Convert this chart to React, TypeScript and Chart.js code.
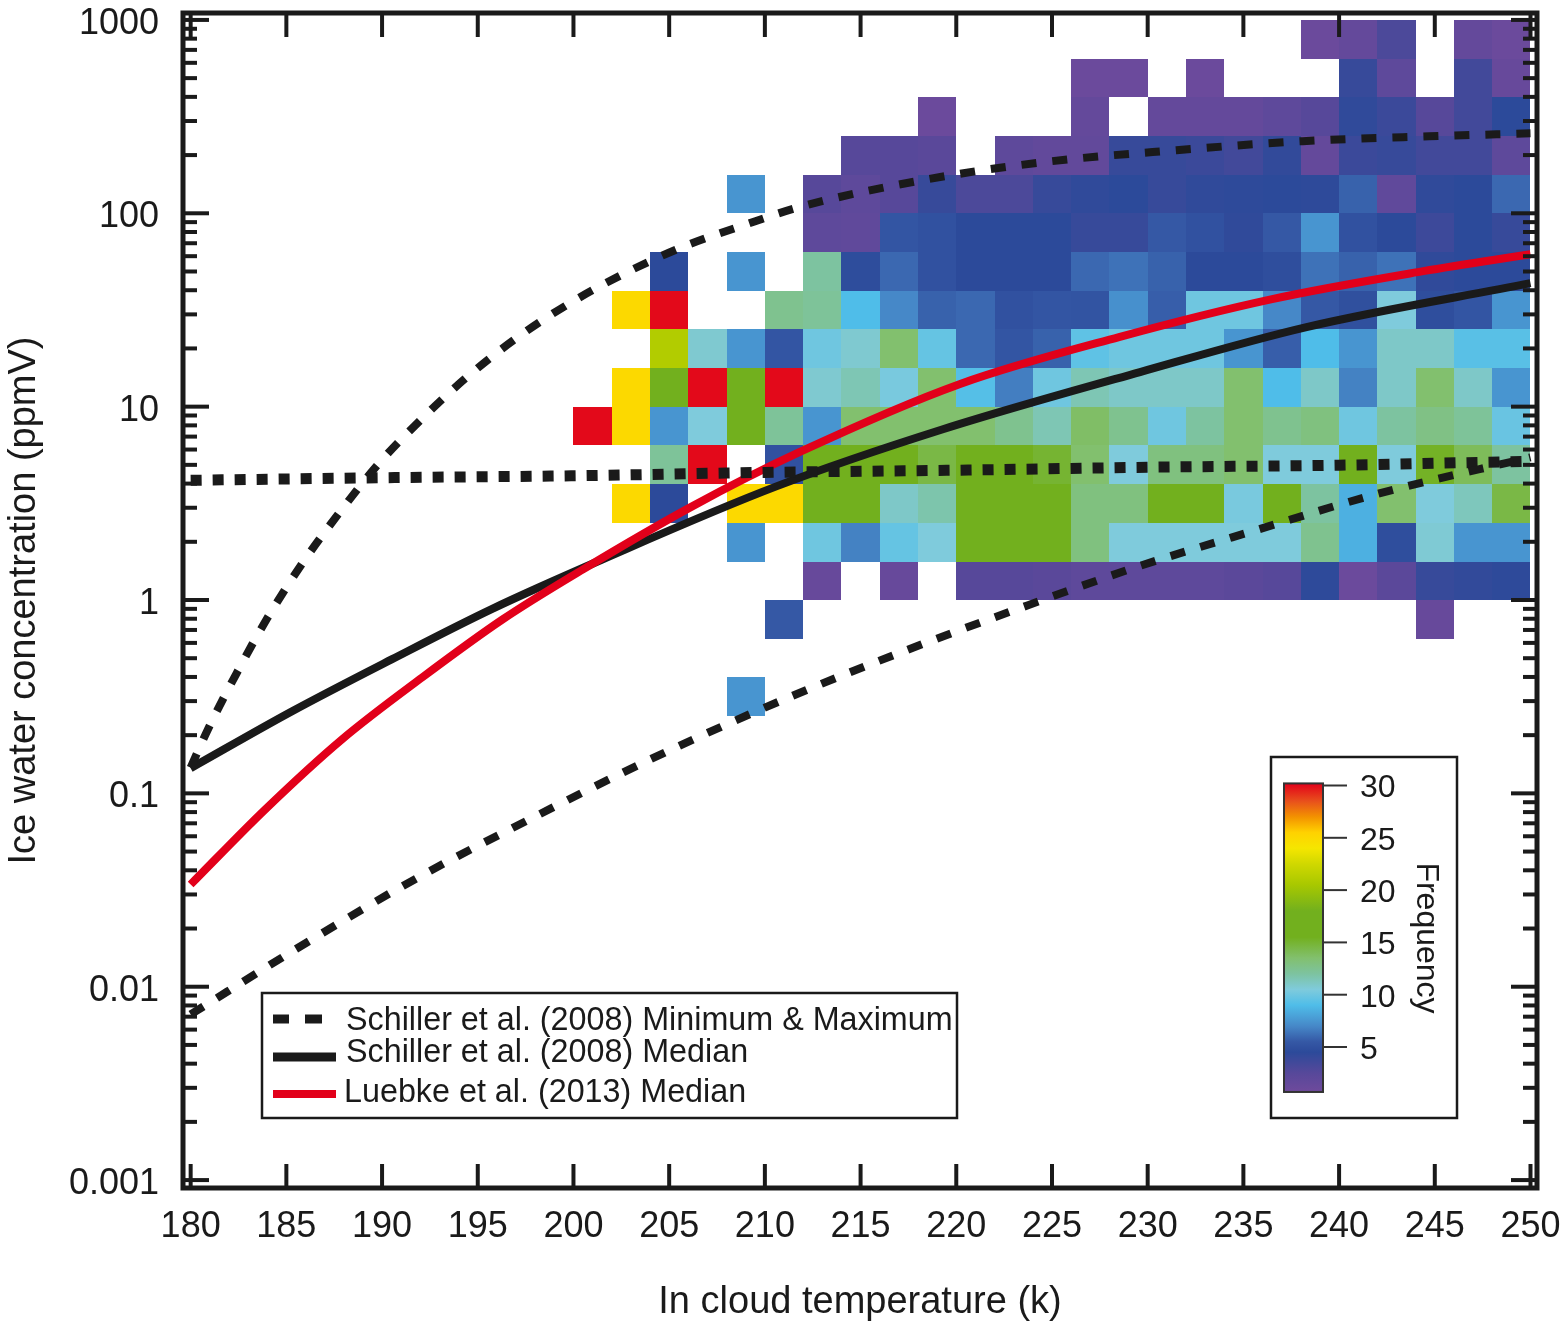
import React, { useEffect, useRef } from "react";
import { Chart, registerables } from "chart.js";
Chart.register(...registerables);

const FONT = '"Liberation Sans", Arial, sans-serif';
const INK = "#1a1a1a";

// axes
const xTickValues = [180, 185, 190, 195, 200, 205, 210, 215, 220, 225, 230, 235, 240, 245, 250];
const yTickValues = [1000, 100, 10, 1, 0.1, 0.01, 0.001];
const yTickLabels = ["1000", "100", "10", "1", "0.1", "0.01", "0.001"];
const yMinorSteps = [2, 3, 4, 5, 6, 7, 8, 9];

// heat map bins: left edge of each temperature column, 2 K wide
const binTemps = [200, 202, 204, 206, 208, 210, 212, 214, 216, 218, 220, 222, 224, 226, 228, 230, 232, 234, 236, 238, 240, 242, 244, 246, 248];
const binWidth = 2;
// top and bottom of every row, ppmV
const rowEdges = [1000, 631, 398, 251, 158, 100, 63.1, 39.8, 25.1, 15.8, 10, 6.31, 3.98, 2.51, 1.58, 1, 0.631, 0.398, 0.251];

// frequency, 0 = no data
const frequency = [
  [0, 0, 0, 0, 0, 0, 0, 0, 0, 0, 0, 0, 0, 0, 0, 0, 0, 0, 0, 1, 1.5, 3, 0, 1.5, 1],
  [0, 0, 0, 0, 0, 0, 0, 0, 0, 0, 0, 0, 0, 1, 1, 0, 1, 0, 0, 0, 4, 2, 0, 3.5, 1.3],
  [0, 0, 0, 0, 0, 0, 0, 0, 0, 1, 0, 0, 0, 1.5, 0, 1.5, 1.5, 1.5, 2, 2.5, 4.3, 3.8, 2.5, 3.5, 4.5],
  [0, 0, 0, 0, 0, 0, 0, 2.5, 2.5, 2.3, 0, 2, 1.7, 1.7, 4, 4, 3.8, 3.5, 4.2, 1.5, 3.8, 4, 3.5, 3.5, 2],
  [0, 0, 0, 0, 7.5, 0, 2.5, 2, 2.5, 4, 3, 3, 4, 4.3, 4.5, 4, 4.3, 4.4, 4.5, 4.4, 5.8, 1.8, 4.3, 4.5, 6],
  [0, 0, 0, 0, 0, 0, 2, 1.8, 5.3, 5, 4.5, 4.5, 4.5, 4, 4, 5.5, 5, 4.3, 5.5, 7.5, 5, 4.5, 3.7, 4.5, 4],
  [0, 0, 4.5, 0, 7.5, 0, 12, 4.7, 6, 5, 4.5, 4.5, 4.5, 6, 6.3, 5.8, 4.5, 4.5, 4.8, 6.3, 5.8, 6.3, 4.3, 4.5, 4.5],
  [0, 25, 30, 0, 0, 12.5, 12.2, 9, 7, 5.8, 6, 5, 5.3, 5.2, 7.3, 5.7, 10, 10, 7, 5.5, 4.9, 10.5, 4.8, 5.3, 7.5],
  [0, 0, 21, 10.8, 7.5, 5.3, 10, 10.8, 13.5, 9.7, 6, 5.3, 5.8, 9.5, 10, 10, 10, 7.5, 5.7, 9, 7.5, 11, 11, 9.3, 9.3],
  [0, 25, 16, 30, 16, 30, 10.8, 11.5, 10.3, 13.5, 9.2, 6.7, 10, 11.5, 11, 11, 11, 13.5, 9, 11, 6.8, 11, 13.5, 11, 7.5],
  [30, 25, 7.5, 10.5, 16, 12.2, 7.5, 13.5, 13.5, 13.5, 13.5, 12.5, 11.5, 13.7, 12.5, 10, 12, 13.5, 12.5, 13, 10, 12, 12.8, 12.2, 9.8],
  [0, 0, 12.2, 30, 0, 5, 15.5, 15.5, 15.8, 14.5, 16, 16, 15, 13.5, 10.5, 13, 13, 13.5, 10.5, 10.5, 17, 10.5, 15.3, 14, 12],
  [0, 25, 4.5, 0, 25, 25, 16, 16, 11, 11.7, 16, 16.3, 18, 13, 13, 17.5, 17.5, 10.3, 17, 12, 8.5, 13.5, 10.5, 11.3, 14.5],
  [0, 0, 0, 0, 7.5, 0, 10, 6.8, 9.7, 10.5, 15.5, 17.5, 15.5, 13, 10.5, 10.5, 10.5, 10.5, 10.5, 12.5, 8.5, 4.8, 10.7, 7.5, 7.5],
  [0, 0, 0, 0, 0, 0, 1.3, 0, 1.3, 0, 2.5, 2.5, 2.3, 2, 2, 2, 2, 2.2, 2.5, 4.4, 1, 2.2, 4, 4.2, 4.4],
  [0, 0, 0, 0, 0, 5.5, 0, 0, 0, 0, 0, 0, 0, 0, 0, 0, 0, 0, 0, 0, 0, 0, 1.3, 0, 0],
  [0, 0, 0, 0, 0, 0, 0, 0, 0, 0, 0, 0, 0, 0, 0, 0, 0, 0, 0, 0, 0, 0, 0, 0, 0],
  [0, 0, 0, 0, 7.5, 0, 0, 0, 0, 0, 0, 0, 0, 0, 0, 0, 0, 0, 0, 0, 0, 0, 0, 0, 0],
];

// colour bar
const colorValues = [0.7, 2.5, 4.5, 5.5, 7, 9, 10.5, 12, 13.5, 15.5, 18, 20.5, 22.5, 24, 25.5, 27, 28.5, 30.2];
const colorHexes = ["#6f4a9c", "#57489a", "#2c4a9a", "#3558a5", "#4688c8", "#4fbde9", "#7fcbdc", "#7dc3a0", "#82c06e", "#72b01e", "#72b01e", "#a8c800", "#d0d800", "#f5e600", "#ffd200", "#f39200", "#e8501c", "#e2001a"];
const colorBarTicks = [30, 25, 20, 15, 10, 5];

// curves
const maxTemps = [180, 180.9, 182.4, 184, 185.8, 187.7, 189.8, 192.1, 194.5, 197.1, 199.9, 202.8, 205.8, 208.9, 212, 218.5, 225, 231.5, 238.1, 244.7, 250];
const maxValues = [0.136, 0.214, 0.418, 0.804, 1.53, 2.77, 5.04, 8.7, 14.4, 22.9, 34.7, 49.6, 67.6, 86.8, 109, 150, 186, 212, 236, 250, 259];
const minTemps = [180, 185.7, 191.7, 197.6, 204.2, 210.9, 217.1, 223.3, 229.5, 235.8, 242.1, 250];
const minValues = [0.00719, 0.0161, 0.0359, 0.0725, 0.153, 0.303, 0.536, 0.906, 1.49, 2.32, 3.56, 5.47];
const medianTemps = [180, 185.3, 190.5, 195.7, 201.5, 210.6, 219.3, 229.6, 238.3, 250];
const medianValues = [0.135, 0.266, 0.493, 0.895, 1.62, 3.87, 7.64, 15.1, 25.8, 43.5];
const luebkeTemps = [180, 183.9, 187.9, 192.1, 196.3, 200.5, 206.2, 211.8, 220.2, 228.5, 236.5, 244.4, 250];
const luebkeValues = [0.0338, 0.0827, 0.19, 0.398, 0.794, 1.44, 3.05, 5.81, 13.1, 22.9, 36, 50.2, 61.4];
const dottedTemps = [180, 190, 200, 210, 220, 230, 240, 250];
const dottedValues = [4.16, 4.29, 4.39, 4.57, 4.69, 4.86, 4.98, 5.22];

const legendLabels = [
  "Schiller et al. (2008) Minimum & Maximum",
  "Schiller et al. (2008) Median",
  "Luebke et al. (2013) Median",
];

function hexToRgb(hex: string) {
  return [1, 3, 5].map((i) => parseInt(hex.slice(i, i + 2), 16));
}

function freqColor(v: number) {
  let i = 0;
  while (i < colorValues.length - 2 && v > colorValues[i + 1]) i++;
  const t = Math.min(1, Math.max(0, (v - colorValues[i]) / (colorValues[i + 1] - colorValues[i])));
  const a = hexToRgb(colorHexes[i]);
  const b = hexToRgb(colorHexes[i + 1]);
  const c = a.map((ch, k) => Math.round(ch + (b[k] - ch) * t));
  return `rgb(${c[0]},${c[1]},${c[2]})`;
}

function points(xs: number[], ys: number[]) {
  return xs.map((x, i) => ({ x, y: ys[i] }));
}

// heat map goes under the lines
const heatPlugin = {
  id: "heat",
  beforeDatasetsDraw(chart: any) {
    const { ctx, scales } = chart;
    frequency.forEach((row, r) => {
      const y0 = Math.round(scales.y.getPixelForValue(rowEdges[r]));
      const y1 = Math.round(scales.y.getPixelForValue(rowEdges[r + 1]));
      row.forEach((v, c) => {
        if (!v) return;
        const x0 = Math.round(scales.x.getPixelForValue(binTemps[c]));
        const x1 = Math.round(scales.x.getPixelForValue(binTemps[c] + binWidth));
        ctx.fillStyle = freqColor(v);
        ctx.fillRect(x0, y0, x1 - x0, y1 - y0);
      });
    });
  },
};

// inward ticks on all four sides, frame, legend box and colour bar
const overlayPlugin = {
  id: "overlay",
  afterDatasetsDraw(chart: any) {
    const { ctx, scales, chartArea: a } = chart;
    ctx.save();
    ctx.strokeStyle = INK;
    ctx.lineWidth = 4;
    const seg = (x0: number, y0: number, x1: number, y1: number) => {
      ctx.beginPath();
      ctx.moveTo(x0, y0);
      ctx.lineTo(x1, y1);
      ctx.stroke();
    };
    xTickValues.forEach((v) => {
      const x = scales.x.getPixelForValue(v);
      seg(x, a.bottom, x, a.bottom - 24);
      seg(x, a.top, x, a.top + 24);
    });
    yTickValues.forEach((v) => {
      const y = scales.y.getPixelForValue(v);
      seg(a.left, y, a.left + 26, y);
      seg(a.right, y, a.right - 26, y);
      if (v === 1000) return;
      yMinorSteps.forEach((m) => {
        const ym = scales.y.getPixelForValue(v * m);
        seg(a.left, ym, a.left + 14, ym);
        seg(a.right, ym, a.right - 14, ym);
      });
    });
    ctx.lineWidth = 5;
    ctx.strokeRect(a.left, a.top, a.right - a.left, a.bottom - a.top);

    // legend
    ctx.lineWidth = 2.5;
    ctx.strokeRect(262, 993, 695, 125);
    ctx.fillStyle = INK;
    ctx.fillRect(273, 1014.5, 16, 9);
    ctx.fillRect(305, 1014.5, 17, 9);
    ctx.fillRect(273, 1052.5, 63, 9);
    ctx.fillStyle = "#e2001a";
    ctx.fillRect(273, 1090, 63, 8);
    ctx.fillStyle = INK;
    ctx.font = `32.3px ${FONT}`;
    ctx.textAlign = "left";
    ctx.textBaseline = "middle";
    ctx.fillText(legendLabels[0], 346, 1021);
    ctx.fillText(legendLabels[1], 346, 1053);
    ctx.fillText(legendLabels[2], 344, 1093);

    // colour bar
    const barY = (v: number) => 1047 - (v - 5) * 10.46;
    ctx.strokeRect(1271, 757, 186, 361);
    const top = barY(colorValues[colorValues.length - 1]);
    const bottom = barY(colorValues[0]);
    const grad = ctx.createLinearGradient(0, bottom, 0, top);
    colorValues.forEach((v, i) => {
      grad.addColorStop((v - colorValues[0]) / (colorValues[colorValues.length - 1] - colorValues[0]), colorHexes[i]);
    });
    ctx.fillStyle = grad;
    ctx.fillRect(1284, top, 39, bottom - top);
    ctx.lineWidth = 2;
    ctx.strokeStyle = "#333";
    ctx.strokeRect(1284, top, 39, bottom - top);
    ctx.fillStyle = INK;
    ctx.font = `32px ${FONT}`;
    colorBarTicks.forEach((v) => {
      seg(1323, barY(v), 1347, barY(v));
      ctx.fillText(String(v), 1360, barY(v) + 3);
    });
    ctx.translate(1426, 938);
    ctx.rotate(Math.PI / 2);
    ctx.textAlign = "center";
    ctx.fillText("Frequency", 0, 0);
    ctx.restore();
  },
};

export default function App() {
  const canvasRef = useRef<HTMLCanvasElement>(null);

  useEffect(() => {
    if (!canvasRef.current) return;
    const line = { pointRadius: 0, cubicInterpolationMode: "monotone", borderCapStyle: "butt", fill: false };
    const chart = new Chart(canvasRef.current, {
      type: "line",
      data: {
        datasets: [
          { ...line, label: "Schiller max", data: points(maxTemps, maxValues), borderColor: INK, borderWidth: 8, borderDash: [15, 16], order: 1 },
          { ...line, label: "Schiller min", data: points(minTemps, minValues), borderColor: INK, borderWidth: 8, borderDash: [15, 16], order: 1 },
          { ...line, label: "Schiller frost", data: points(dottedTemps, dottedValues), borderColor: INK, borderWidth: 11, borderDash: [11, 11], order: 2 },
          { ...line, label: "Luebke median", data: points(luebkeTemps, luebkeValues), borderColor: "#e2001a", borderWidth: 8, order: 3 },
          { ...line, label: "Schiller median", data: points(medianTemps, medianValues), borderColor: INK, borderWidth: 8, order: 4 },
        ] as any,
      },
      options: {
        animation: false,
        responsive: false,
        layout: { padding: { top: 13, right: 24, left: 0, bottom: 0 } },
        plugins: { legend: { display: false }, tooltip: { enabled: false } },
        scales: {
          x: {
            type: "linear",
            min: 179.6,
            max: 250.34,
            grid: { display: false, drawTicks: false },
            border: { display: false },
            afterFit: (s: any) => { s.height = 134; s.paddingLeft = 0; s.paddingRight = 0; },
            afterBuildTicks: (s: any) => { s.ticks = xTickValues.map((value) => ({ value })); },
            ticks: {
              autoSkip: false,
              maxRotation: 0,
              padding: 21,
              color: INK,
              font: { family: FONT, size: 36, lineHeight: 1 },
              callback: (v: any) => String(v),
            },
            title: {
              display: true,
              text: "In cloud temperature (k)",
              color: INK,
              font: { family: FONT, size: 38, lineHeight: 1 },
              padding: { top: 0, bottom: 0 },
            },
          },
          y: {
            type: "logarithmic",
            min: 0.00091,
            max: 1086,
            grid: { display: false, drawTicks: false },
            border: { display: false },
            afterFit: (s: any) => { s.width = 183; s.paddingTop = 0; s.paddingBottom = 0; },
            afterBuildTicks: (s: any) => { s.ticks = yTickValues.map((value) => ({ value })); },
            ticks: {
              autoSkip: false,
              padding: 24,
              labelOffset: 4,
              color: INK,
              font: { family: FONT, size: 36, lineHeight: 1 },
              callback: (v: any) => yTickLabels[yTickValues.indexOf(v)],
            },
            title: {
              display: true,
              text: "Ice water concentration (ppmV)",
              color: INK,
              font: { family: FONT, size: 38, lineHeight: 1 },
              padding: { top: 6, bottom: 0 },
            },
          },
        },
      },
      plugins: [heatPlugin, overlayPlugin],
    } as any);
    return () => chart.destroy();
  }, []);

  return (
    <div style={{ position: "absolute", left: 0, top: 0, width: 1561, height: 1322, background: "#fff" }}>
      <canvas ref={canvasRef} width={1561} height={1322} style={{ display: "block" }} />
    </div>
  );
}
